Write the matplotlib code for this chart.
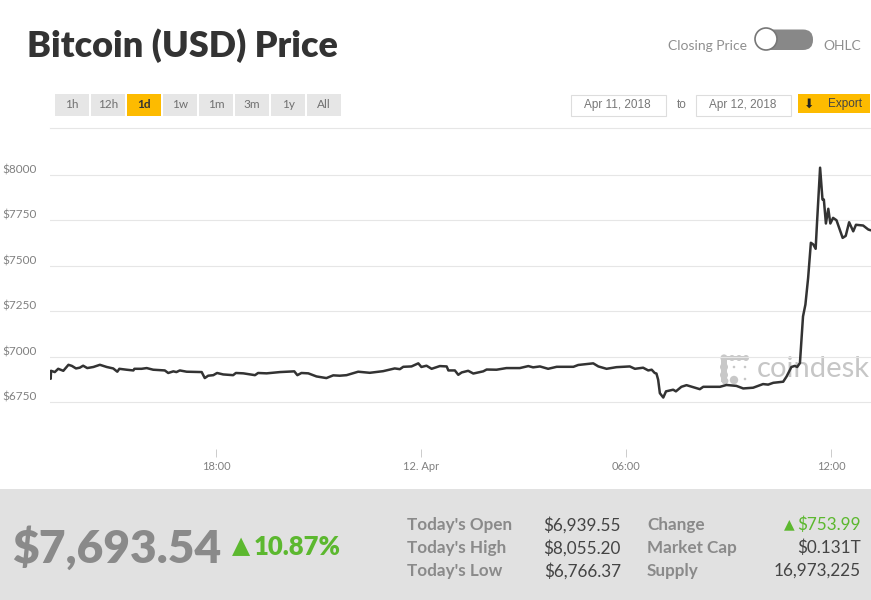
import matplotlib
matplotlib.use("Agg")
import matplotlib.pyplot as plt
from matplotlib.patches import Rectangle, FancyBboxPatch, Circle

# hours relative to 12 Apr 00:00
hours = [-10.87, -10.85, -10.84, -10.73, -10.63, -10.48, -10.33, -10.23, -10.11, -10.0, -9.90, -9.78, -9.60,
         -9.41, -9.21, -9.02, -8.90, -8.84, -8.63, -8.43, -8.40, -8.19, -8.04, -7.85, -7.51, -7.41, -7.26,
         -7.17, -7.07, -6.87, -6.43, -6.34, -6.24, -6.09, -5.98, -5.80, -5.51, -5.43, -5.21, -4.87, -4.78,
         -4.53, -4.14, -3.72, -3.63, -3.51, -3.31, -3.07, -2.78, -2.58, -2.39, -2.19, -1.85, -1.51, -1.12,
         -0.78, -0.63, -0.53, -0.29, -0.09, 0.0, 0.15, 0.30, 0.54, 0.74, 0.79, 0.98, 1.08, 1.18, 1.37, 1.52,
         1.81, 1.91, 2.20, 2.49, 2.88, 3.13, 3.27, 3.47, 3.71, 3.96, 4.45, 4.59, 5.03, 5.18, 5.42, 5.71,
         6.10, 6.25, 6.49, 6.64, 6.74, 6.83, 6.88, 6.93, 6.98, 7.08, 7.16, 7.37, 7.45, 7.61, 7.76, 8.15,
         8.25, 8.74, 8.93, 9.22, 9.42, 9.71, 10.0, 10.15, 10.30, 10.59, 10.69, 10.83, 10.93, 11.0, 11.08,
         11.13, 11.17, 11.24, 11.32, 11.40, 11.47, 11.54, 11.58, 11.67, 11.74, 11.78, 11.84, 11.91, 11.97,
         12.05, 12.15, 12.33, 12.42, 12.52, 12.64, 12.72, 12.93, 13.08, 13.13]
prices = [6911, 6879, 6923, 6916, 6934, 6923, 6956, 6950, 6936, 6940, 6951, 6938, 6944,
          6956, 6944, 6936, 6918, 6934, 6929, 6925, 6934, 6934, 6938, 6929, 6925, 6911, 6920,
          6916, 6925, 6918, 6916, 6883, 6896, 6899, 6911, 6903, 6899, 6911, 6909, 6899, 6911,
          6909, 6916, 6920, 6899, 6911, 6909, 6892, 6883, 6898, 6896, 6899, 6918, 6912, 6921,
          6936, 6932, 6945, 6947, 6964, 6944, 6951, 6934, 6949, 6947, 6925, 6925, 6901, 6914, 6923, 6908,
          6920, 6930, 6929, 6938, 6938, 6949, 6942, 6947, 6934, 6945, 6945, 6955, 6964, 6947, 6934, 6943,
          6947, 6934, 6940, 6925, 6929, 6911, 6908, 6874, 6800, 6776, 6810, 6819, 6810, 6835, 6844, 6822,
          6835, 6835, 6845, 6840, 6826, 6830, 6850, 6847, 6857, 6863, 6892, 6944, 6950, 6944, 6966,
          7112, 7222, 7287, 7434, 7627, 7618, 7594, 7737, 8040, 7865, 7865, 7733, 7814, 7733,
          7764, 7751, 7654, 7665, 7740, 7690, 7726, 7722, 7700, 7697]
y_ticks = [8000, 7750, 7500, 7250, 7000, 6750]
y_labels = ["$8000", "$7750", "$7500", "$7250", "$7000", "$6750"]
x_ticks = [-6, 0, 6, 12]
x_labels = ["18:00", "12. Apr", "06:00", "12:00"]
ranges = ["1h", "12h", "1d", "1w", "1m", "3m", "1y", "All"]
stat_names = ["Today's Open", "Today's High", "Today's Low"]
stat_values = ["$6,939.55", "$8,055.20", "$6,766.37"]
info_names = ["Change", "Market Cap", "Supply"]
info_values = ["$753.99", "$0.131T", "16,973,225"]

W, H = 871, 600
GREY = "#8a8a8a"
GREEN = "#5cb82f"
YELLOW = "#fdbb00"
plt.rcParams["font.family"] = ["Lato", "DejaVu Sans"]

fig = plt.figure(figsize=(W / 100, H / 100), dpi=100, facecolor="white")

# page layer in pixel coordinates
bg = fig.add_axes([0, 0, 1, 1])
bg.set_xlim(0, W)
bg.set_ylim(H, 0)
bg.axis("off")

bg.text(27, 46, "Bitcoin (USD) Price", fontsize=25.9, fontweight="heavy", color="#333333", va="center")

# closing price / ohlc switch
bg.text(747, 45.5, "Closing Price", fontsize=10, color="#8f8f8f", ha="right", va="center")
bg.text(823, 45.5, "OHLC", fontsize=10, color="#8f8f8f", va="center")
bg.add_patch(FancyBboxPatch((757, 29.5), 56, 20.5, boxstyle="round,pad=0,rounding_size=10", fc="#888888", ec="none"))
bg.add_patch(Circle((766, 39), 11, fc="white", ec="#777777", lw=1.2, zorder=3))

# range buttons
for i, r in enumerate(ranges):
    x0 = 55 + i * 36
    active = r == "1d"
    bg.add_patch(Rectangle((x0, 94), 34, 22, fc=YELLOW if active else "#e6e6e6", ec="none"))
    bg.text(x0 + 17, 104.5, r, fontsize=8.5, ha="center", va="center", color="#333333" if active else "#707070",
            fontweight="bold" if active else "normal")

# date range + export
for x0, txt in [(571, "Apr 11, 2018"), (696, "Apr 12, 2018")]:
    bg.add_patch(Rectangle((x0, 94.5), 94.5, 21, fc="white", ec="#dddddd", lw=0.8))
    bg.text(x0 + 46.5, 105, txt, fontsize=8.5, ha="center", va="center", color="#777777",
            family="Liberation Sans")
bg.text(682, 105, "to", fontsize=8.5, ha="center", va="center", color="#777777", family="Liberation Sans")
bg.add_patch(Rectangle((798, 94), 72, 19, fc=YELLOW, ec="none"))
bg.text(809, 104, "\u2b07", fontsize=9, ha="center", va="center", color="#222222", family="DejaVu Sans")
bg.text(845, 104, "Export", fontsize=8.5, ha="center", va="center", color="#444444", family="Liberation Sans")
bg.plot([50, W], [128, 128], color="#e6e6e6", lw=0.8)

# watermark logo
bg.add_patch(Rectangle((722, 356), 26, 4, fc="#c8c8c8", ec="none"))
bg.add_patch(Rectangle((721, 356), 6, 26, fc="#c8c8c8", ec="none"))
for cx, cy, r in [(724, 358, 3.6), (732, 358, 3), (739, 358, 3), (746, 358, 3), (724, 367, 4), (724, 375, 4),
                  (725, 381, 3.4), (734, 380, 4.2), (734, 367, 1.3), (745, 367, 1.3), (745, 379, 1.3)]:
    bg.add_patch(Circle((cx, cy), r, fc="#c8c8c8", ec="none"))
bg.text(757, 369, "coindesk", fontsize=21, color="#c6c6c6", va="center")

# bottom panel
bg.add_patch(Rectangle((0, 489), W, 111, fc="#e1e1e1", ec="none"))
bg.text(12, 548, "$7,693.54", fontsize=33.2, fontweight="heavy", color=GREY, va="center")
bg.text(241, 546, "\u25b2", fontsize=17, color=GREEN, ha="center", va="center", family="DejaVu Sans")
bg.text(254, 547, "10.87%", fontsize=18.5, fontweight="heavy", color=GREEN, va="center")

row_y = [525, 548, 571]
for y, name, val, name2, val2 in zip(row_y, stat_names, stat_values, info_names, info_values):
    bg.text(407, y, name, fontsize=12.3, fontweight="bold", color=GREY, va="center")
    bg.text(621, y, val, fontsize=12.3, color="#444444", ha="right", va="center")
    bg.text(647, y, name2, fontsize=12.3, fontweight="bold", color=GREY, va="center")
    bg.text(861, y, val2, fontsize=12.3, color=GREEN if name2 == "Change" else "#444444", ha="right", va="center")
bg.text(789, 524, "\u25b2", fontsize=10, color=GREEN, ha="center", va="center", family="DejaVu Sans")

# the chart itself
top, bottom = 129.5, 449
ax = fig.add_axes([50 / W, 1 - bottom / H, (W - 50) / W, (bottom - top) / H])
ax.patch.set_alpha(0)
ax.plot(hours, prices, color="#333333", lw=1.8, solid_joinstyle="round")
ax.set_xlim(-10.87, 13.16)
ax.set_ylim(8250 - (bottom - top) / 0.18184, 8250)
ax.set_yticks(y_ticks)
ax.set_yticklabels([])
ax.grid(axis="y", color="#e6e6e6", lw=0.8)
ax.set_axisbelow(True)
ax.tick_params(axis="y", length=0)
ax.set_xticks(x_ticks)
ax.set_xticklabels(x_labels, fontsize=8, color="#808080")
ax.tick_params(axis="x", length=6, width=0.7, color="#cccccc", pad=3)
for s in ax.spines.values():
    s.set_visible(False)
for v, lab in zip(y_ticks, y_labels):
    ax.annotate(lab, xy=(0, v), xycoords=("axes fraction", "data"), xytext=(-48, 5), textcoords="offset pixels",
                fontsize=8.5, color="#808080", va="center", annotation_clip=False)

fig.savefig("out.png", dpi=100)
